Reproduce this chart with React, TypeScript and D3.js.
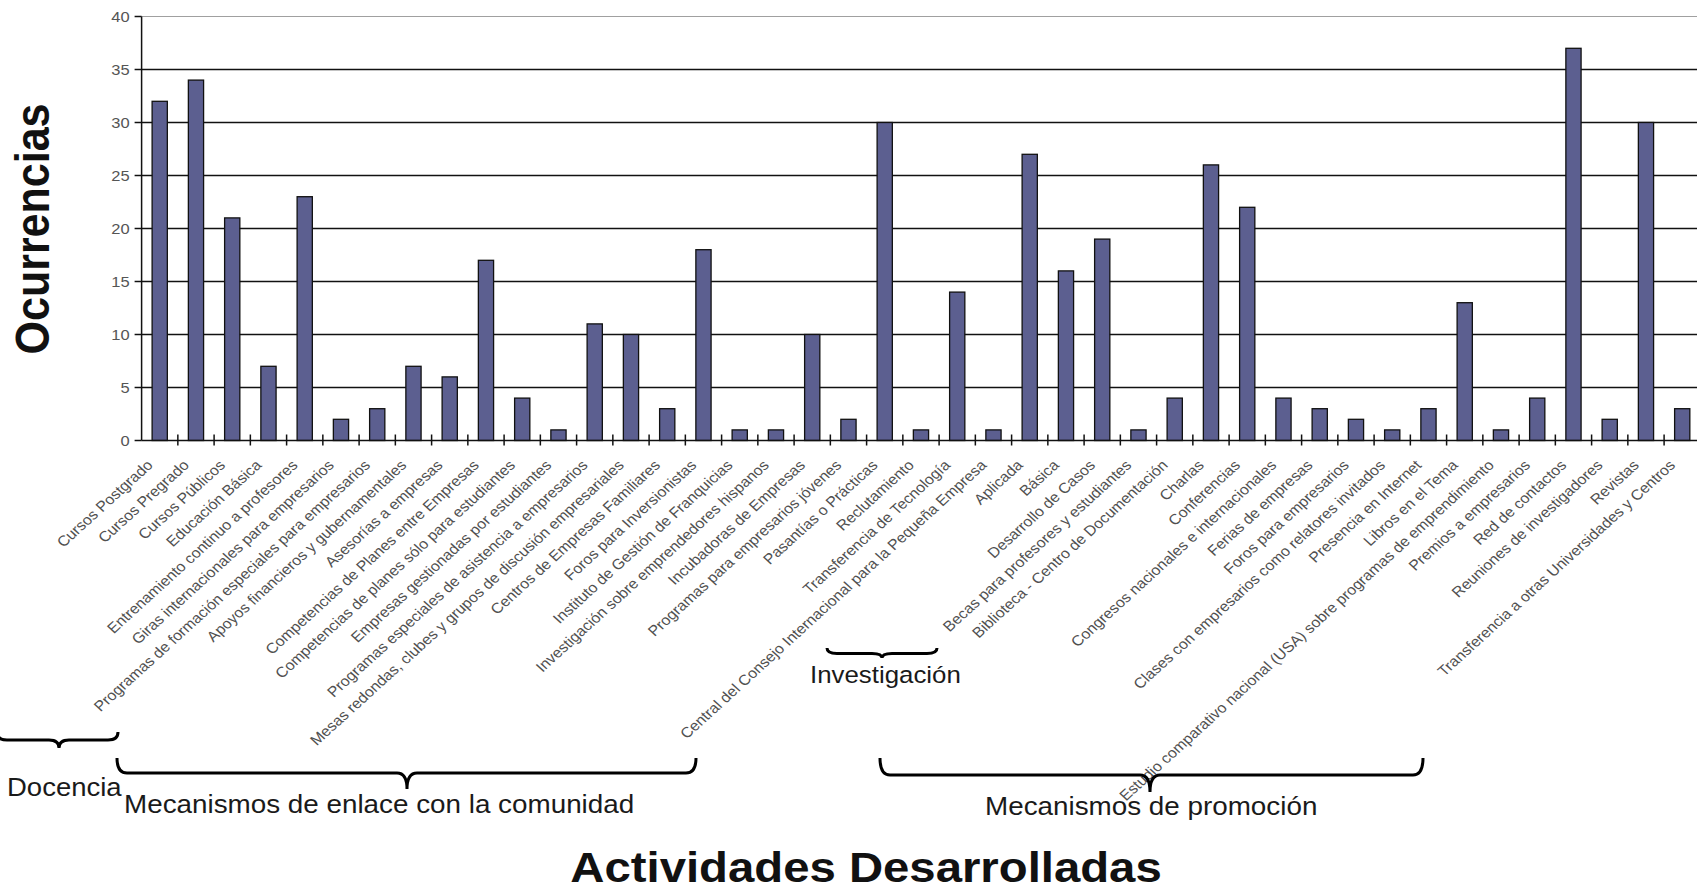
import React, { useEffect, useRef } from 'react';
import { scaleBand, scaleLinear, select } from 'd3';

const categories = [
  'Cursos Postgrado',
  'Cursos Pregrado',
  'Cursos Públicos',
  'Educación Básica',
  'Entrenamiento continuo a profesores',
  'Giras internacionales para empresarios',
  'Programas de formación especiales para empresarios',
  'Apoyos financieros y gubernamentales',
  'Asesorías a empresas',
  'Competencias de Planes entre Empresas',
  'Competencias de planes sólo para estudiantes',
  'Empresas gestionadas por estudiantes',
  'Programas especiales de asistencia a empresarios',
  'Mesas redondas, clubes y grupos de discusión empresariales',
  'Centros de Empresas Familiares',
  'Foros para Inversionistas',
  'Instituto de Gestión de Franquicias',
  'Investigación sobre emprendedores hispanos',
  'Incubadoras de Empresas',
  'Programas para empresarios jóvenes',
  'Pasantías o Prácticas',
  'Reclutamiento',
  'Transferencia de Tecnología',
  'Central del Consejo Internacional para la Pequeña Empresa',
  'Aplicada',
  'Básica',
  'Desarrollo de Casos',
  'Becas para profesores y estudiantes',
  'Biblioteca - Centro de Documentación',
  'Charlas',
  'Conferencias',
  'Congresos nacionales e internacionales',
  'Ferias de empresas',
  'Foros para empresarios',
  'Clases con empresarios como relatores invitados',
  'Presencia en Internet',
  'Libros en el Tema',
  'Estudio comparativo nacional (USA) sobre programas de emprendimiento',
  'Premios a empresarios',
  'Red de contactos',
  'Reuniones de investigadores',
  'Revistas',
  'Transferencia a otras Universidades y Centros',
];

const ocurrencias = [
  32, 34, 21, 7, 23, 2, 3, 7, 6, 17, 4, 1, 11, 10, 3, 18, 1, 1, 10, 2, 30, 1,
  14, 1, 27, 16, 19, 1, 4, 26, 22, 4, 3, 2, 1, 3, 13, 1, 4, 37, 2, 30, 3,
];

const yTicks = [0, 5, 10, 15, 20, 25, 30, 35, 40];

const groupNames = [
  'Docencia',
  'Mecanismos de enlace con la comunidad',
  'Investigación',
  'Mecanismos de promoción',
];

// brace + label placement (layout only)
const braceLayout = [
  { x1: -3, x2: 118, yt: 732, yf: 740, yb: 748, xm: 59, tx: 7, ty: 796, fs: 25 },
  { x1: 117, x2: 696, yt: 758, yf: 773, yb: 789, xm: 407, tx: 124, ty: 813, fs: 25.3 },
  { x1: 827, x2: 937, yt: 648, yf: 653.5, yb: 658, xm: 882, tx: 810, ty: 683, fs: 23.5 },
  { x1: 880, x2: 1423, yt: 758, yf: 775, yb: 792, xm: 1150, tx: 985, ty: 815, fs: 25.3 },
];

const W = 1697;
const H = 893;
const left = 141.6;
const axisY = 440.5;
const topY = 16.5;
const font = '"Liberation Sans", Arial, sans-serif';

const bracePath = ({ x1, x2, yt, yf, yb, xm }) => {
  const r = 10;
  return `M${x1},${yt} Q${x1},${yf} ${x1 + r},${yf} L${xm - r},${yf} Q${xm},${yf} ${xm},${yb}`
    + ` Q${xm},${yf} ${xm + r},${yf} L${x2 - r},${yf} Q${x2},${yf} ${x2},${yt}`;
};

const App = () => {
  const ref = useRef(null);

  useEffect(() => {
    document.body.style.margin = '0';
    const svg = select(ref.current);
    svg.selectAll('*').remove();

    const x = scaleBand()
      .domain(categories)
      .range([left, left + 36.25 * categories.length])
      .paddingInner(0.58)
      .paddingOuter(0.29);
    const gap = (x.step() - x.bandwidth()) / 2;

    const y = scaleLinear().domain([0, 40]).range([axisY, topY]);

    // gridlines
    svg.append('g')
      .selectAll('line')
      .data(yTicks.filter((t) => t > 0))
      .enter()
      .append('line')
      .attr('x1', left)
      .attr('x2', W)
      .attr('y1', (d) => y(d))
      .attr('y2', (d) => y(d))
      .attr('stroke', (d) => (d === 40 ? '#a0a0a0' : '#111'))
      .attr('stroke-width', (d) => (d === 40 ? 1 : 1.5));

    // bars
    svg.append('g')
      .selectAll('rect')
      .data(categories)
      .enter()
      .append('rect')
      .attr('x', (d) => x(d))
      .attr('y', (d, i) => y(ocurrencias[i]))
      .attr('width', x.bandwidth())
      .attr('height', (d, i) => axisY - y(ocurrencias[i]))
      .attr('fill', '#5c5f90')
      .attr('stroke', '#111')
      .attr('stroke-width', 1.3);

    // y axis
    const yAxis = svg.append('g');
    yAxis.append('line')
      .attr('x1', left).attr('x2', left)
      .attr('y1', topY).attr('y2', axisY)
      .attr('stroke', '#111').attr('stroke-width', 1.5);
    yAxis.selectAll('line.tick')
      .data(yTicks)
      .enter()
      .append('line')
      .attr('class', 'tick')
      .attr('x1', left - 7).attr('x2', left)
      .attr('y1', (d) => y(d)).attr('y2', (d) => y(d))
      .attr('stroke', '#111').attr('stroke-width', 1.5);
    yAxis.selectAll('text')
      .data(yTicks)
      .enter()
      .append('text')
      .attr('transform', (d) => `translate(${left - 12},${y(d)}) scale(1.1,1)`)
      .attr('dy', '0.35em')
      .attr('text-anchor', 'end')
      .attr('font-family', font)
      .attr('font-size', 15)
      .attr('fill', '#555')
      .text((d) => d);

    // x axis
    const xAxis = svg.append('g');
    xAxis.append('line')
      .attr('x1', left).attr('x2', W)
      .attr('y1', axisY).attr('y2', axisY)
      .attr('stroke', '#111').attr('stroke-width', 1.5);
    xAxis.selectAll('line.tick')
      .data(categories.slice(1))
      .enter()
      .append('line')
      .attr('class', 'tick')
      .attr('x1', (d) => x(d) - gap)
      .attr('x2', (d) => x(d) - gap)
      .attr('y1', axisY - 6).attr('y2', axisY + 5)
      .attr('stroke', '#111').attr('stroke-width', 1.5);
    xAxis.selectAll('text')
      .data(categories)
      .enter()
      .append('text')
      .attr('transform', (d) => `translate(${x(d) + x.bandwidth() / 2 - 10},${axisY + 22}) scale(1.1,1) rotate(-45)`)
      .attr('dy', '0.35em')
      .attr('text-anchor', 'end')
      .attr('font-family', font)
      .attr('font-size', 14.5)
      .attr('fill', '#505050')
      .text((d) => d);

    // group braces and labels
    const groups = svg.append('g');
    groups.selectAll('path')
      .data(braceLayout)
      .enter()
      .append('path')
      .attr('d', bracePath)
      .attr('fill', 'none')
      .attr('stroke', '#000')
      .attr('stroke-width', 3);
    groups.selectAll('text')
      .data(groupNames)
      .enter()
      .append('text')
      .attr('transform', (d, i) => `translate(${braceLayout[i].tx},${braceLayout[i].ty}) scale(1.1,1)`)
      .attr('font-family', font)
      .attr('font-size', (d, i) => braceLayout[i].fs)
      .attr('fill', '#1a1a1a')
      .text((d) => d);

    // axis titles
    svg.append('text')
      .attr('transform', 'translate(49,229) scale(1.1,1) rotate(-90)')
      .attr('text-anchor', 'middle')
      .attr('font-family', font)
      .attr('font-weight', 'bold')
      .attr('font-size', 43)
      .attr('fill', '#111')
      .text('Ocurrencias');

    svg.append('text')
      .attr('transform', 'translate(866,882) scale(1.1,1)')
      .attr('text-anchor', 'middle')
      .attr('font-family', font)
      .attr('font-weight', 'bold')
      .attr('font-size', 43)
      .attr('fill', '#111')
      .text('Actividades Desarrolladas');
  }, []);

  return (
    <svg ref={ref} width={W} height={H} style={{ display: 'block', background: '#fff' }} />
  );
};

export default App;
